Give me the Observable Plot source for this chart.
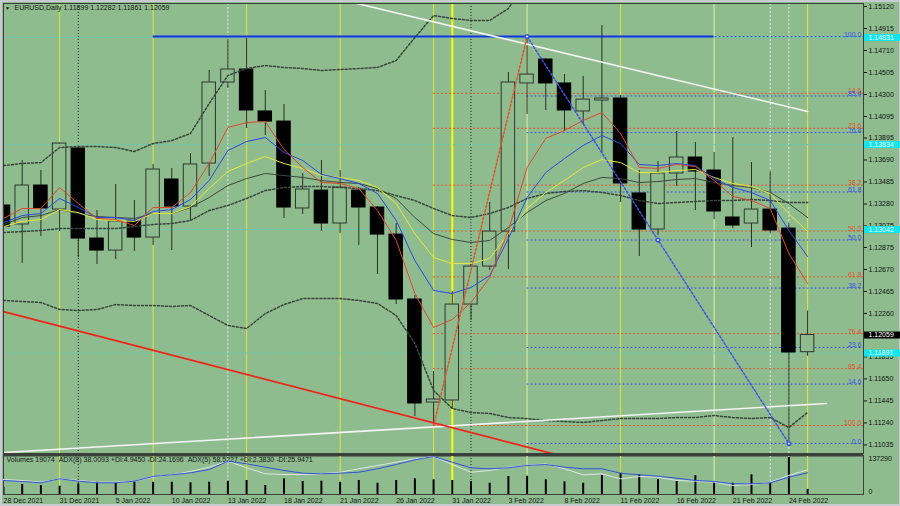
<!DOCTYPE html>
<html><head><meta charset="utf-8">
<script src="https://cdn.jsdelivr.net/npm/d3@7"></script>
<script src="https://cdn.jsdelivr.net/npm/@observablehq/plot@0.6"></script>
<style>
html,body{margin:0;padding:0;background:#8fbc8f;}
#chart{position:relative;width:900px;height:506px;background:#8fbc8f;overflow:hidden;box-shadow:inset 2px 2px 0 #c8ccd2, inset -1px -2px 0 #c8ccd2;}
#chart svg{position:absolute;left:0;}
</style></head><body><div id="chart"></div>
<script>
// ---- data (EURUSD daily, 28 Dec 2021 .. 25 Feb 2022) ----
const opens  = [1.13266,1.13089,1.13452,1.13228,1.13797,1.12958,1.12846,1.13117,1.12967,1.13508,1.13256,1.13657,1.14412,1.14533,1.14142,1.14048,1.13238,1.13405,1.13098,1.13405,1.13247,1.12995,1.12390,1.11430,1.11449,1.12343,1.12697,1.13023,1.14403,1.14626,1.14403,1.14142,1.14244,1.14263,1.13378,1.13042,1.13564,1.13713,1.13592,1.13154,1.13098,1.13228,1.13051,1.11899];
const highs  = [1.13322,1.13685,1.13592,1.13850,1.13806,1.13219,1.13461,1.13312,1.13648,1.13611,1.13750,1.14524,1.14812,1.14822,1.14337,1.14207,1.13564,1.13685,1.13592,1.13433,1.13256,1.13098,1.12427,1.11719,1.12464,1.12725,1.13294,1.14505,1.14840,1.14636,1.14486,1.14468,1.14943,1.14291,1.13592,1.13676,1.13955,1.13853,1.13760,1.13899,1.13666,1.13583,1.13098,1.12282];
const lows   = [1.12884,1.12725,1.12977,1.13023,1.12781,1.12716,1.12763,1.12837,1.12893,1.12846,1.13126,1.13536,1.14356,1.13983,1.13918,1.13145,1.13182,1.13023,1.13004,1.12893,1.12623,1.12343,1.11300,1.11225,1.11365,1.12194,1.12660,1.12669,1.14114,1.14151,1.13955,1.14020,1.13750,1.13294,1.12790,1.12986,1.13443,1.13219,1.13135,1.13051,1.12874,1.13004,1.11048,1.11861];
const closes = [1.13070,1.13452,1.13238,1.13843,1.12958,1.12846,1.13117,1.12967,1.13601,1.13256,1.13648,1.14412,1.14533,1.14151,1.14048,1.13247,1.13415,1.13098,1.13433,1.13247,1.12995,1.12390,1.11421,1.11458,1.12343,1.12697,1.13023,1.14412,1.14486,1.14403,1.14151,1.14253,1.14263,1.13471,1.13042,1.13564,1.13713,1.13583,1.13210,1.13079,1.13228,1.13033,1.11896,1.12059];
const volumes = [27100,37100,33400,30800,39700,45600,43400,49300,45600,45600,43400,45600,49300,51900,33400,58300,48200,49300,45600,51900,41900,51900,58300,54500,51900,48200,41900,66800,67900,54500,47100,41900,70500,79000,73100,55700,49300,70500,45600,41900,73100,41900,137290,19074];

const maRed    = [1.13145,1.13238,1.13238,1.13433,1.13284,1.13145,1.13135,1.13079,1.13247,1.13247,1.13387,1.13657,1.13993,1.14039,1.14048,1.13788,1.13620,1.13480,1.13471,1.13424,1.13219,1.12940,1.12446,1.12129,1.12204,1.12362,1.12595,1.13033,1.13620,1.13890,1.13965,1.14058,1.14132,1.13937,1.13620,1.13611,1.13648,1.13629,1.13499,1.13350,1.13312,1.13238,1.12818,1.12539];
const maBlue   = [1.13107,1.13172,1.13191,1.13331,1.13247,1.13154,1.13154,1.13126,1.13210,1.13228,1.13322,1.13499,1.13778,1.13862,1.13899,1.13760,1.13685,1.13555,1.13517,1.13471,1.13378,1.13126,1.12753,1.12474,1.12446,1.12502,1.12613,1.12958,1.13340,1.13573,1.13704,1.13825,1.13918,1.13843,1.13648,1.13638,1.13657,1.13638,1.13517,1.13433,1.13387,1.13312,1.13033,1.12790];
const maYellow = [1.13070,1.13117,1.13135,1.13228,1.13200,1.13135,1.13126,1.13117,1.13191,1.13191,1.13256,1.13424,1.13583,1.13657,1.13722,1.13657,1.13611,1.13545,1.13527,1.13499,1.13433,1.13284,1.13004,1.12781,1.12725,1.12725,1.12772,1.13004,1.13238,1.13387,1.13499,1.13620,1.13694,1.13666,1.13573,1.13573,1.13592,1.13601,1.13527,1.13471,1.13443,1.13378,1.13191,1.13023];
const maGray   = [1.13089,1.13154,1.13172,1.13228,1.13191,1.13163,1.13154,1.13145,1.13191,1.13191,1.13247,1.13340,1.13452,1.13517,1.13564,1.13545,1.13527,1.13499,1.13480,1.13471,1.13424,1.13331,1.13154,1.13004,1.12949,1.12921,1.12940,1.13061,1.13200,1.13312,1.13378,1.13471,1.13527,1.13517,1.13480,1.13489,1.13508,1.13517,1.13480,1.13452,1.13433,1.13387,1.13284,1.13154];

const bbUpper  = [1.13638,1.13657,1.13666,1.13806,1.13815,1.13815,1.13806,1.13769,1.13843,1.13871,1.13937,1.14216,1.14477,1.14542,1.14570,1.14552,1.14542,1.14524,1.14533,1.14542,1.14552,1.14617,1.14831,1.15036,1.15008,1.14990,1.14990,1.15101,1.15362,1.15450,1.15430,1.15400,1.15380,1.15360,1.15340,1.15320,1.15320,1.15310,1.15310,1.15310,1.15310,1.15300,1.15370,1.15330];
const bbMid    = [1.13014,1.13023,1.13033,1.13051,1.13051,1.13051,1.13051,1.13070,1.13089,1.13098,1.13126,1.13219,1.13266,1.13331,1.13405,1.13433,1.13443,1.13443,1.13433,1.13424,1.13405,1.13359,1.13312,1.13238,1.13172,1.13154,1.13191,1.13247,1.13331,1.13378,1.13396,1.13405,1.13387,1.13359,1.13312,1.13284,1.13294,1.13303,1.13312,1.13312,1.13322,1.13312,1.13294,1.13294];
const bbLower  = [1.12381,1.12371,1.12362,1.12297,1.12287,1.12297,1.12343,1.12334,1.12334,1.12325,1.12334,1.12241,1.12148,1.12120,1.12259,1.12343,1.12399,1.12399,1.12399,1.12381,1.12353,1.12241,1.11980,1.11542,1.11374,1.11337,1.11328,1.11290,1.11281,1.11262,1.11253,1.11244,1.11262,1.11281,1.11281,1.11281,1.11290,1.11290,1.11309,1.11290,1.11281,1.11290,1.11197,1.11337];

const adxBlue  = [35.9,33.3,30.0,40.3,34.1,30.0,30.0,34.1,46.2,50.5,55.6,64.1,85.4,78.7,70.0,61.5,54.6,53.1,54.6,57.2,65.9,76.9,89.0,97.4,82.8,68.5,65.9,68.5,74.4,76.9,70.0,65.9,65.9,54.6,50.5,46.9,41.8,35.9,33.3,27.4,27.4,30.0,44.4,55.6];
const adxWhite = [38.5,35.9,31.5,40.3,35.9,31.5,31.5,34.1,44.4,50.5,59.0,70.0,85.4,68.5,53.1,51.3,51.3,53.1,57.2,65.9,74.4,82.8,91.5,97.4,76.9,57.2,61.5,70.0,74.4,78.7,65.9,50.5,53.1,40.3,46.2,44.4,35.9,34.1,31.5,23.1,25.6,31.5,48.7,63.3];

const dateLabels = ["28 Dec 2021","31 Dec 2021","5 Jan 2022","10 Jan 2022","13 Jan 2022","18 Jan 2022","21 Jan 2022","26 Jan 2022","31 Jan 2022","3 Feb 2022","8 Feb 2022","11 Feb 2022","16 Feb 2022","21 Feb 2022","24 Feb 2022"];
const dateLabelBars = [0,3,6,9,12,15,18,21,24,27,30,33,36,39,42];
const priceTicks = [1.15120,1.14915,1.14710,1.14505,1.14300,1.14095,1.13895,1.13690,1.13485,1.13280,1.13075,1.12875,1.12670,1.12465,1.12260,1.11855,1.11650,1.11445,1.11240,1.11035];

// horizontal / vertical objects
const cyanLevels = [1.14831,1.13834,1.13042,1.11891];
const blueLevel = 1.14840, blueLevelFrom = 8, blueLevelTo = 38;
const vYellow = [3,8,13,18,23,33,43];
const vYellowBold = [24];
const vYellowPale = [28,38];
const vWhiteDash = [12,41,42];
const vBlackDot = [4,25];

// trend lines (bar index, price)
const trendWhiteTop = [{i:18.9,p:1.15148},{i:43,p:1.14142}];
const trendWhiteBottom = [{i:0,p:1.10964},{i:44,p:1.11421}];
const trendRed = [{i:0,p:1.12278},{i:31.9,p:1.10839}];

// Fibonacci retracements
const fibRatios = [0,0.146,0.236,0.382,0.5,0.618,0.764,0.854,1];
const fibNames  = ["0.0","14.6","23.6","38.2","50.0","61.8","76.4","85.4","100.0"];
const redFib  = {fromBar:23, toBar:28, low:1.11216, high:1.14840};
const blueFib = {fromBar:28, toBar:42, high:1.14840, low:1.11048};

const header = "EURUSD,Daily 1.11899 1.12282 1.11861 1.12059";
const volHeader = "Volumes 19074\u00a0\u00a0ADX(8) 38.0093 +DI:4.9450 -DI:24.1696\u00a0\u00a0ADX(5) 58.5227 +DI:2.3830 -DI:25.9471";

// ---- build ----
const BG = "#8fbc8f";
const FONT = "'Liberation Sans', Arial, sans-serif";
const N = opens.length;
const bars = opens.map((o,i)=>({i, open:o, high:highs[i], low:lows[i], close:closes[i], vol:volumes[i]}));
const series = arr => arr.map((p,i)=>({i,p}));
const XMAX = 45.99;
const xScale = {type:"linear", domain:[0,XMAX], range:[3,863], axis:null};
const styleBase = {background:"transparent", fontFamily:FONT, fontSize:"7px", color:"#111", overflow:"visible"};

const redFibRows = fibRatios.map((r,k)=>({p: redFib.high - r*(redFib.high-redFib.low), label: fibNames[k]})).filter((d,k)=>k>0);
const blueFibRows = fibRatios.map((r,k)=>({p: blueFib.low + r*(blueFib.high-blueFib.low), label: fibNames[k]}));
const redDiag = [{i:redFib.fromBar,p:redFib.low},{i:redFib.toBar,p:redFib.high}];
const blueDiag = [{i:blueFib.fromBar,p:blueFib.high},{i:blueFib.toBar,p:blueFib.low}];
const blueDiagPts = [blueDiag[0], {i:(blueDiag[0].i+blueDiag[1].i)/2, p:(blueDiag[0].p+blueDiag[1].p)/2}, blueDiag[1]];

function verticals() {
  return [
    Plot.ruleX(vYellowPale, {stroke:"#d6e69a", strokeWidth:1.2}),
    Plot.ruleX(vYellow, {stroke:"#e4e436", strokeWidth:1}),
    Plot.ruleX(vYellowBold, {stroke:"#f4f410", strokeWidth:2.2}),
    Plot.ruleX(vWhiteDash, {stroke:"#e4ece4", strokeWidth:1, strokeDasharray:"2,2"}),
    Plot.ruleX(vBlackDot, {stroke:"#1c241c", strokeWidth:1, strokeDasharray:"1,2"})
  ];
}

const main = Plot.plot({
  width:900, height:455, marginLeft:3, marginRight:37, marginTop:3, marginBottom:2,
  x: xScale,
  y: {domain:[1.10955,1.15148], range:[453,3]},
  style: styleBase,
  marks: [
    ...verticals(),
    Plot.ruleY(cyanLevels, {stroke:"#3fd9d2", strokeDasharray:"1,2"}),
    Plot.ruleY(redFibRows, {y:"p", x1:redFib.fromBar, x2:XMAX, stroke:"#e0532c", strokeDasharray:"2,2"}),
    Plot.ruleY(blueFibRows, {y:"p", x1:blueFib.fromBar, x2:XMAX, stroke:"#3a55e0", strokeDasharray:"2,2"}),
    Plot.ruleY([blueLevel], {x1:blueLevelFrom, x2:blueLevelTo, stroke:"#1234e6", strokeWidth:2}),
    // candles
    Plot.ruleX(bars, {x:"i", y1:"low", y2:"high", stroke:"#2a2f2a", clip:true}),
    Plot.rect(bars.filter(d=>d.close>=d.open), {x1:d=>d.i-0.36, x2:d=>d.i+0.36, y1:"open", y2:"close", fill:BG, stroke:"#2e362e", clip:true}),
    Plot.rect(bars.filter(d=>d.close<d.open), {x1:d=>d.i-0.36, x2:d=>d.i+0.36, y1:"open", y2:"close", fill:"#000", stroke:"#000", clip:true}),
    // Bollinger bands
    Plot.line(series(bbUpper), {x:"i", y:"p", stroke:"#37453a", strokeDasharray:"2,2", clip:true}),
    Plot.line(series(bbMid), {x:"i", y:"p", stroke:"#37453a", strokeDasharray:"2,2", clip:true}),
    Plot.line(series(bbLower), {x:"i", y:"p", stroke:"#37453a", strokeDasharray:"2,2", clip:true}),
    // moving averages
    Plot.line(series(maGray), {x:"i", y:"p", stroke:"#3b4a3b", strokeWidth:1, clip:true}),
    Plot.line(series(maYellow), {x:"i", y:"p", stroke:"#e8e83a", strokeWidth:1, clip:true}),
    Plot.line(series(maBlue), {x:"i", y:"p", stroke:"#2a48e6", strokeWidth:1, clip:true}),
    Plot.line(series(maRed), {x:"i", y:"p", stroke:"#e2452e", strokeWidth:1, clip:true}),
    // trend lines
    Plot.line(trendWhiteTop, {x:"i", y:"p", stroke:"#f4f4f4", strokeWidth:1.6, clip:true}),
    Plot.line(trendWhiteBottom, {x:"i", y:"p", stroke:"#f4f4f4", strokeWidth:1.6, clip:true}),
    Plot.line(trendRed, {x:"i", y:"p", stroke:"#ee2418", strokeWidth:1.8, clip:true}),
    Plot.line(redDiag, {x:"i", y:"p", stroke:"#e0532c", strokeDasharray:"2,2", clip:true}),
    Plot.line(blueDiag, {x:"i", y:"p", stroke:"#3a55e0", strokeDasharray:"2,2", clip:true}),
    Plot.dot(blueDiagPts, {x:"i", y:"p", r:1.8, stroke:"#3a55e0", fill:"#e8f0e8"}),
    // fib labels
    Plot.text(redFibRows, {x:XMAX, y:"p", text:"label", dx:-2, textAnchor:"end", lineAnchor:"bottom", fill:"#e0532c", fontSize:7}),
    Plot.text(blueFibRows, {x:XMAX, y:"p", text:"label", dx:-2, textAnchor:"end", lineAnchor:"bottom", fill:"#3a55e0", fontSize:7}),
    // header
    Plot.text(["\u25BC"], {frameAnchor:"top-left", text:d=>d, dx:4, dy:4.5, fontSize:5, textAnchor:"middle", lineAnchor:"middle", fill:"#111"}),
    Plot.text([header], {frameAnchor:"top-left", text:d=>d, dx:11, dy:1.5, fontSize:7, textAnchor:"start", lineAnchor:"top", fill:"#151515"}),
    // right axis
    Plot.axisY(priceTicks, {anchor:"right", tickFormat:d3.format(".5f"), tickSize:3, tickPadding:2, fontSize:7, label:null}),
    Plot.ruleY(cyanLevels, {x1:XMAX+0.03, x2:48.2, stroke:"#12e6ec", strokeWidth:7}),
    Plot.text(cyanLevels, {x:XMAX, y:d=>d, text:d3.format(".5f"), dx:5, textAnchor:"start", fill:"#eaffff", fontSize:7}),
    Plot.ruleY([closes[N-1]], {x1:XMAX+0.03, x2:48.2, stroke:"#000", strokeWidth:7}),
    Plot.text([closes[N-1]], {x:XMAX, y:d=>d, text:d3.format(".5f"), dx:5, textAnchor:"start", fill:"#fff", fontSize:7}),
    Plot.frame({stroke:"#3a3f3a"}),
    Plot.ruleY([1.10955], {stroke:"#3a403a", strokeWidth:3, dy:1.5})
  ]
});
main.style.top = "0px";

const ind = Plot.plot({
  width:900, height:53, marginLeft:3, marginRight:37, marginTop:2, marginBottom:12,
  x: xScale,
  y: {domain:[0,137290], range:[41,4], axis:null},
  style: styleBase,
  marks: [
    ...verticals(),
    Plot.ruleX(bars, {x:"i", y1:0, y2:"vol", stroke:"#000", strokeWidth:2, clip:true}),
    Plot.frame({stroke:"#3a3f3a"}),
    Plot.text([volHeader], {frameAnchor:"top-left", text:d=>d, dx:3, dy:1.5, fontSize:7, textAnchor:"start", lineAnchor:"top", fill:"#151515"}),
    Plot.text([137290], {x:XMAX, y:d=>d, text:d=>String(d), dx:5, dy:1.5, textAnchor:"start", fontSize:7, fill:"#111"}),
    Plot.text([0], {x:XMAX, y:d=>d, text:d=>String(d), dx:5, dy:-3, textAnchor:"start", fontSize:7, fill:"#111"}),
    Plot.text(dateLabels.map((t,k)=>({i:dateLabelBars[k], t})), {x:"i", text:"t", frameAnchor:"bottom", dy:6.5, textAnchor:"start", lineAnchor:"middle", fontSize:7, fill:"#151515"})
  ]
});
ind.style.top = "453px";

const adx = Plot.plot({
  width:900, height:53, marginLeft:3, marginRight:37, marginTop:2, marginBottom:12,
  x: xScale,
  y: {domain:[0,100], range:[41,2], axis:null},
  style: styleBase,
  marks: [
    Plot.line(series(adxWhite), {x:"i", y:"p", stroke:"#dfe6df", strokeWidth:1, clip:true}),
    Plot.line(series(adxBlue), {x:"i", y:"p", stroke:"#3352dd", strokeWidth:1, clip:true})
  ]
});
adx.style.top = "453px";

const el = document.getElementById("chart");
el.append(main, ind, adx);
</script>
</body></html>
